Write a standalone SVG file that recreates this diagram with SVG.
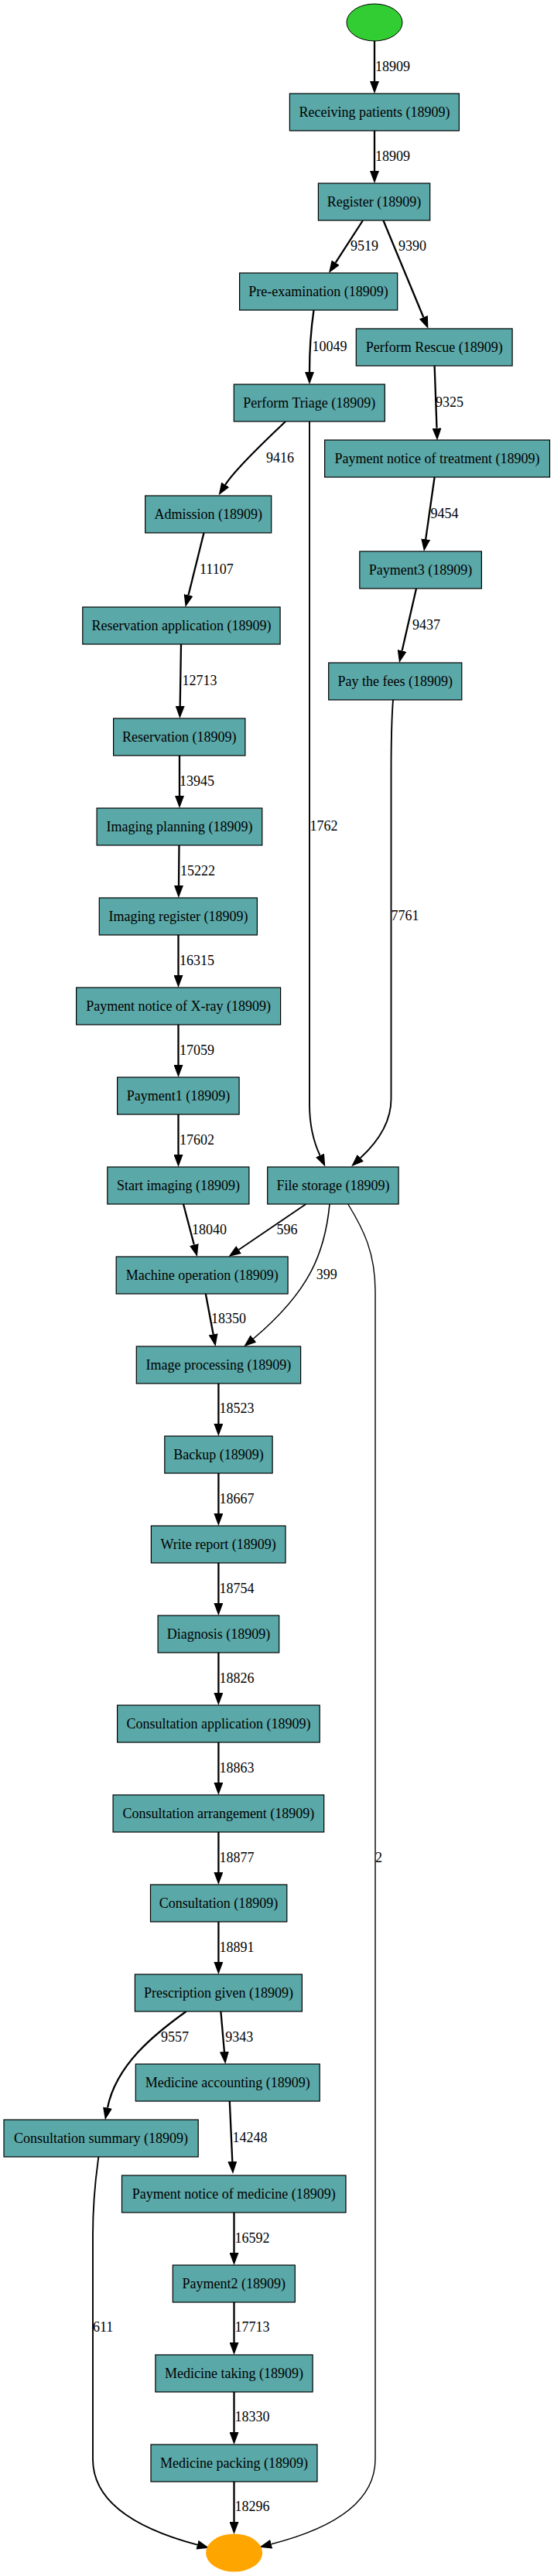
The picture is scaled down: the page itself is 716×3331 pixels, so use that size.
<svg xmlns="http://www.w3.org/2000/svg" width="716" height="3331" viewBox="0 0 716 3331">
<style>
.n rect{fill:#5ba8a8;stroke:#000;stroke-width:1.2}
text{font-family:"Liberation Serif","Times New Roman",serif;font-size:18px;fill:#000}
.n text{text-anchor:middle}
.e path{fill:none;stroke:#000;stroke-width:2.3;marker-end:url(#a)}
.e .t1{stroke-width:1.4}
.e .t2{stroke-width:1.6}
.e .t3{stroke-width:1.9}
</style>
<defs>
<marker id="a" viewBox="0 0 16 12" refX="0" refY="6" markerWidth="16" markerHeight="12" markerUnits="userSpaceOnUse" orient="auto"><path d="M0,0 L16,6 L0,12 z" fill="#000"/></marker>
</defs>
<rect width="716" height="3331" fill="#fff"/>
<g class="e" id="connectors">
<path d="M484,53 L484,105"/>
<path d="M484,169 L484,221"/>
<path d="M469,285 L433.7,339.6"/>
<path d="M495.4,285 L547.3,410.2"/>
<path d="M405.5,401 C402,425 400,450 400,481"/>
<path d="M561.6,473 L564.5,553.6"/>
<path d="M369,545 C348,565 305,605 291.2,626.8"/>
<path class="t3" d="M400,545 L400,1428 C400,1455 406,1478 413.5,1494"/>
<path d="M561.6,617 L550.2,697.2"/>
<path d="M538,761 L519.6,841.4"/>
<path class="t3" d="M508,905 C506,930 505.5,960 505.5,1000 L505.5,1421 C505.5,1450 490,1475 465.9,1497.3"/>
<path d="M263.5,689 L243.5,769.5"/>
<path d="M234,833 L232.7,913"/>
<path d="M232,977 L232,1029"/>
<path d="M231.5,1093 L231,1145"/>
<path d="M230.5,1209 L230.5,1261"/>
<path d="M230.5,1325 L230.5,1377"/>
<path d="M230.5,1441 L230.5,1493"/>
<path d="M237,1557 L250.8,1609.5"/>
<path class="t3" d="M395.4,1557 L308.6,1616"/>
<path class="t2" d="M426,1557 C420,1620 400,1670 327.5,1731"/>
<path class="t1" d="M449.8,1557 C470,1590 485,1620 485,1670 L485,3180 C485,3240 420,3272 350.7,3289.7"/>
<path d="M265.8,1673 L275.6,1725.3"/>
<path d="M282.4,1789 L282.4,1841"/>
<path d="M282.4,1905 L282.4,1957"/>
<path d="M282.4,2021 L282.4,2073"/>
<path d="M282.4,2137 L282.4,2189"/>
<path d="M282.4,2253 L282.4,2305"/>
<path d="M282.4,2369 L282.4,2421"/>
<path d="M282.4,2485 L282.4,2537"/>
<path d="M240.6,2601 C200,2630 150,2670 139,2725.6"/>
<path d="M285.4,2601 L289.9,2653"/>
<path d="M296.8,2717 L300.3,2795"/>
<path class="t3" d="M127.4,2789 C123,2820 120,2850 120,2890 L120,3180 C120,3240 185,3272 255,3290.7"/>
<path d="M302.5,2861 L302.5,2913"/>
<path d="M302.5,2977 L302.5,3029"/>
<path d="M302.5,3093 L302.5,3145"/>
<path d="M302.5,3209 L302.5,3261"/>
</g>
<g id="edge-labels">
<text x="485" y="92">18909</text>
<text x="485" y="208">18909</text>
<text x="453" y="324">9519</text>
<text x="515" y="324">9390</text>
<text x="403.6" y="453.5">10049</text>
<text x="563" y="525.6">9325</text>
<text x="344" y="598">9416</text>
<text x="400.5" y="1074">1762</text>
<text x="556.6" y="670">9454</text>
<text x="533" y="814">9437</text>
<text x="505.5" y="1190">7761</text>
<text x="258" y="741.7">11107</text>
<text x="235.6" y="886">12713</text>
<text x="232" y="1015.6">13945</text>
<text x="233" y="1131.7">15222</text>
<text x="232" y="1248">16315</text>
<text x="232" y="1364">17059</text>
<text x="232" y="1480">17602</text>
<text x="248" y="1596">18040</text>
<text x="357.5" y="1596">596</text>
<text x="408.7" y="1653.5">399</text>
<text x="485" y="2408">2</text>
<text x="273" y="1711">18350</text>
<text x="283.6" y="1827">18523</text>
<text x="283.6" y="1943.5">18667</text>
<text x="283.6" y="2059.6">18754</text>
<text x="283.6" y="2175.6">18826</text>
<text x="283.6" y="2291.7">18863</text>
<text x="283.6" y="2407.6">18877</text>
<text x="283.6" y="2523.8">18891</text>
<text x="208" y="2639.6">9557</text>
<text x="291.3" y="2639.6">9343</text>
<text x="300.5" y="2770">14248</text>
<text x="120" y="3015">611</text>
<text x="303.6" y="2899.7">16592</text>
<text x="303.6" y="3015">17713</text>
<text x="303.6" y="3131">18330</text>
<text x="303.6" y="3247">18296</text>
</g>
<g id="start"><ellipse cx="484" cy="29" rx="36" ry="24" fill="#32cd32" stroke="#000" stroke-width="1"/></g>
<g id="end"><ellipse cx="302.6" cy="3301" rx="36.5" ry="24.5" fill="#ffa500"/></g>
<g id="receiving" class="n"><rect x="374.4" y="121" width="219" height="48"/><text x="484" y="151">Receiving patients (18909)</text></g>
<g id="register" class="n"><rect x="411.4" y="237" width="144.3" height="48"/><text x="483.6" y="267">Register (18909)</text></g>
<g id="preexam" class="n"><rect x="309.6" y="353" width="204.1" height="48"/><text x="411.6" y="383">Pre-examination (18909)</text></g>
<g id="rescue" class="n"><rect x="460.3" y="425" width="201.8" height="48"/><text x="561.2" y="455">Perform Rescue (18909)</text></g>
<g id="triage" class="n"><rect x="302.3" y="497" width="195" height="48"/><text x="399.8" y="527">Perform Triage (18909)</text></g>
<g id="pnt" class="n"><rect x="419.6" y="569" width="290.9" height="48"/><text x="565" y="599">Payment notice of treatment (18909)</text></g>
<g id="admission" class="n"><rect x="187.7" y="641" width="163" height="48"/><text x="269.2" y="671">Admission (18909)</text></g>
<g id="payment3" class="n"><rect x="464.8" y="713" width="157.6" height="48"/><text x="543.6" y="743">Payment3 (18909)</text></g>
<g id="resapp" class="n"><rect x="106.8" y="785" width="255.3" height="48"/><text x="234.5" y="815">Reservation application (18909)</text></g>
<g id="payfees" class="n"><rect x="424.7" y="857" width="172.1" height="48"/><text x="510.7" y="887">Pay the fees (18909)</text></g>
<g id="reservation" class="n"><rect x="146.6" y="929" width="170.3" height="48"/><text x="231.7" y="959">Reservation (18909)</text></g>
<g id="imgplan" class="n"><rect x="125.1" y="1045" width="213.7" height="48"/><text x="232" y="1075">Imaging planning (18909)</text></g>
<g id="imgreg" class="n"><rect x="128.3" y="1161" width="204.1" height="48"/><text x="230.4" y="1191">Imaging register (18909)</text></g>
<g id="pnx" class="n"><rect x="98.6" y="1277" width="264" height="48"/><text x="230.6" y="1307">Payment notice of X-ray (18909)</text></g>
<g id="payment1" class="n"><rect x="151.6" y="1393" width="157.5" height="48"/><text x="230.4" y="1423">Payment1 (18909)</text></g>
<g id="startimg" class="n"><rect x="138.8" y="1509" width="183.1" height="48"/><text x="230.4" y="1539">Start imaging (18909)</text></g>
<g id="filestorage" class="n"><rect x="345.7" y="1509" width="169.4" height="48"/><text x="430.4" y="1539">File storage (18909)</text></g>
<g id="machop" class="n"><rect x="150.2" y="1625" width="221.9" height="48"/><text x="261.2" y="1655">Machine operation (18909)</text></g>
<g id="imgproc" class="n"><rect x="176.3" y="1741" width="212.3" height="48"/><text x="282.4" y="1771">Image processing (18909)</text></g>
<g id="backup" class="n"><rect x="212.8" y="1857" width="139.3" height="48"/><text x="282.4" y="1887">Backup (18909)</text></g>
<g id="writerep" class="n"><rect x="195.4" y="1973" width="173.6" height="48"/><text x="282.2" y="2003">Write report (18909)</text></g>
<g id="diagnosis" class="n"><rect x="204.1" y="2089" width="156.6" height="48"/><text x="282.4" y="2119">Diagnosis (18909)</text></g>
<g id="consapp" class="n"><rect x="151.6" y="2205" width="261.6" height="48"/><text x="282.4" y="2235">Consultation application (18909)</text></g>
<g id="consarr" class="n"><rect x="146.1" y="2321" width="272.6" height="48"/><text x="282.4" y="2351">Consultation arrangement (18909)</text></g>
<g id="consultation" class="n"><rect x="194.5" y="2437" width="176.3" height="48"/><text x="282.6" y="2467">Consultation (18909)</text></g>
<g id="prescription" class="n"><rect x="174.4" y="2553" width="216" height="48"/><text x="282.4" y="2583">Prescription given (18909)</text></g>
<g id="medacc" class="n"><rect x="175.3" y="2669" width="237.9" height="48"/><text x="294.3" y="2699">Medicine accounting (18909)</text></g>
<g id="conssum" class="n"><rect x="5" y="2741" width="251.2" height="48"/><text x="130.6" y="2771">Consultation summary (18909)</text></g>
<g id="pnm" class="n"><rect x="157.5" y="2813" width="289.5" height="48"/><text x="302.3" y="2843">Payment notice of medicine (18909)</text></g>
<g id="payment2" class="n"><rect x="223.3" y="2929" width="158" height="48"/><text x="302.3" y="2959">Payment2 (18909)</text></g>
<g id="medtaking" class="n"><rect x="200.9" y="3045" width="203.2" height="48"/><text x="302.5" y="3075">Medicine taking (18909)</text></g>
<g id="medpacking" class="n"><rect x="195" y="3161" width="215" height="48"/><text x="302.5" y="3191">Medicine packing (18909)</text></g>
</svg>
